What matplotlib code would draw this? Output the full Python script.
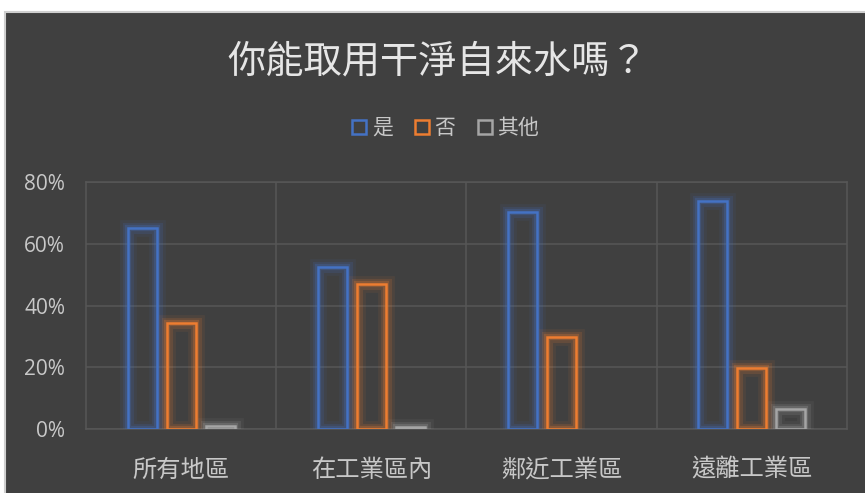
import matplotlib
matplotlib.use("Agg")
import matplotlib.pyplot as plt
import matplotlib.patheffects as pe
from matplotlib.lines import Line2D
from matplotlib.patches import Rectangle
import numpy as np

categories = ["所有地區", "在工業區內", "鄰近工業區", "遠離工業區"]
series_names = ["是", "否", "其他"]
yes_vals = [65.2, 52.6, 70.3, 74.0]
no_vals = [34.2, 47.1, 29.7, 19.7]
other_vals = [1.0, 0.6, 0.0, 6.5]
yticks = [0, 20, 40, 60, 80]
ytick_labels = ["0%", "20%", "40%", "60%", "80%"]
title = "你能取用干淨自來水嗎？"

colors = ["#4472C4", "#ED7D31", "#A5A5A5"]
bg = "#404040"
grid_c = "#575757"
cjk = ["Noto Sans CJK TC", "DejaVu Sans"]

fig = plt.figure(figsize=(8.65, 4.93), dpi=100, facecolor="white")
fig.patches.append(Rectangle((5/865, -0.01), 1, 1.01 - 12/493, transform=fig.transFigure,
                             facecolor=bg, edgecolor="#CFCFCF", linewidth=1.5, zorder=-10))

ax = fig.add_axes([86/865, 1 - 429/493, (847-86)/865, (429-182)/493])
ax.set_zorder(1)
ax.set_facecolor(bg)

x = np.arange(len(categories))
width = 0.153
offsets = [-0.205, 0.0, 0.205]
all_vals = [yes_vals, no_vals, other_vals]
for vals, off, c, name in zip(all_vals, offsets, colors, series_names):
    bars = ax.bar(x + off, vals, width, facecolor="none", edgecolor=c, linewidth=1.8, zorder=3, label=name)
    for b, v in zip(bars, vals):
        if v <= 0:
            b.set_visible(False)
        b.set_path_effects([pe.Stroke(linewidth=12, foreground=c, alpha=0.08),
                            pe.Stroke(linewidth=8, foreground=c, alpha=0.15),
                            pe.Stroke(linewidth=4.5, foreground=c, alpha=0.25),
                            pe.Normal()])

ax.set_xlim(-0.5, 3.5)
ax.set_ylim(0, 80)
ax.set_yticks(yticks)
ax.set_yticklabels(ytick_labels, fontsize=15, color="#C8C8C8", family=["Open Sans", "DejaVu Sans"])
ax.set_xticks(x)
ax.set_xticklabels(categories, fontsize=17.5, color="#C8C8C8", family=cjk)
ax.set_xticks([0.5, 1.5, 2.5], minor=True)
ax.tick_params(axis="both", which="both", length=0)
ax.tick_params(axis="y", pad=15)
ax.tick_params(axis="x", pad=20)
ax.grid(True, axis="y", color=grid_c, linewidth=1.1, zorder=1)
ax.grid(True, axis="x", which="minor", color=grid_c, linewidth=1.1, zorder=1)
ax.grid(False, axis="x", which="major")
ax.set_axisbelow(True)
for s in ax.spines.values():
    s.set_color(grid_c)
    s.set_linewidth(1.1)

fig.text(438/865, 1 - 62/493, title, ha="center", va="center", fontsize=27.5,
         color="#E6E6E6", family=cjk)

handles = [Line2D([], [], linestyle="none", marker="s", markersize=10, markerfacecolor="none",
                  markeredgecolor=c, markeredgewidth=1.8) for c in colors]
fig.legend(handles, series_names, loc="center", bbox_to_anchor=(445/865, 1 - 128/493),
           ncol=3, frameon=False, fontsize=15, labelcolor="#C8C8C8",
           prop={"family": cjk, "size": 15}, handlelength=0.8, handletextpad=0.2,
           columnspacing=1.0)

fig.savefig("out.png", dpi=100, facecolor="white")
